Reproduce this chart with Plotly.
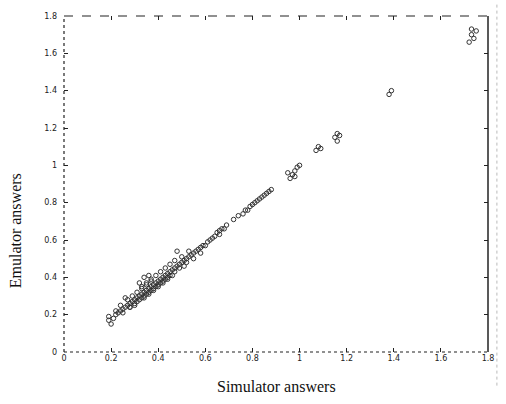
import plotly.graph_objects as go

sim = [0.19, 0.20, 0.19, 0.21, 0.22, 0.23, 0.24, 0.25, 0.26, 0.27, 0.28, 0.28, 0.29, 0.30, 0.30,
       0.31, 0.31, 0.32, 0.32, 0.33, 0.33, 0.33, 0.34, 0.34, 0.35, 0.35, 0.35, 0.36, 0.36, 0.37,
       0.37, 0.37, 0.38, 0.38, 0.39, 0.39, 0.40, 0.40, 0.41, 0.41, 0.42, 0.42, 0.43, 0.43, 0.44,
       0.44, 0.45, 0.45, 0.46, 0.47, 0.47, 0.48, 0.49, 0.49, 0.50, 0.51, 0.52, 0.52, 0.53, 0.54,
       0.55, 0.56, 0.57, 0.58, 0.59, 0.60, 0.61, 0.63, 0.64, 0.65, 0.66, 0.72, 0.74,
       0.76, 0.77, 0.79, 0.80, 0.82, 0.83, 0.84, 0.85, 0.86, 0.87, 0.32, 0.34, 0.36, 0.48, 0.26,
       0.96, 0.97, 0.98, 0.99, 1.00, 1.07, 1.08, 1.09, 1.15, 1.16, 1.17, 1.38, 1.39, 1.72, 1.73,
       1.74, 1.75, 0.62, 0.67, 0.69,
       0.22, 0.24, 0.27, 0.29, 0.31, 0.33, 0.35, 0.37, 0.39, 0.41, 0.43, 0.45, 0.47, 0.50, 0.53,
       0.25, 0.28, 0.30, 0.34, 0.36, 0.38, 0.40, 0.42, 0.44, 0.46, 0.51, 0.55, 0.58, 0.95, 0.98,
       0.78, 0.81, 0.88, 0.66, 0.68, 1.16, 1.73]
emu = [0.17, 0.15, 0.19, 0.18, 0.20, 0.21, 0.22, 0.23, 0.24, 0.25, 0.26, 0.24, 0.27, 0.28, 0.26,
       0.29, 0.27, 0.30, 0.28, 0.31, 0.29, 0.34, 0.32, 0.30, 0.33, 0.31, 0.36, 0.34, 0.32, 0.35,
       0.33, 0.38, 0.36, 0.34, 0.37, 0.35, 0.38, 0.36, 0.39, 0.37, 0.40, 0.38, 0.41, 0.39, 0.42,
       0.40, 0.43, 0.41, 0.44, 0.45, 0.43, 0.46, 0.47, 0.45, 0.48, 0.49, 0.50, 0.48, 0.51, 0.52,
       0.53, 0.54, 0.55, 0.56, 0.57, 0.57, 0.59, 0.61, 0.62, 0.64, 0.65, 0.71, 0.73,
       0.74, 0.76, 0.78, 0.79, 0.81, 0.82, 0.83, 0.84, 0.85, 0.86, 0.37, 0.40, 0.41, 0.54, 0.29,
       0.93, 0.95, 0.97, 0.99, 1.00, 1.08, 1.10, 1.09, 1.15, 1.17, 1.16, 1.38, 1.40, 1.66, 1.70,
       1.68, 1.72, 0.60, 0.66, 0.68,
       0.22, 0.25, 0.28, 0.30, 0.32, 0.35, 0.37, 0.39, 0.41, 0.43, 0.45, 0.47, 0.49, 0.51, 0.54,
       0.21, 0.24, 0.25, 0.29, 0.31, 0.33, 0.35, 0.37, 0.39, 0.41, 0.46, 0.50, 0.53, 0.96, 0.94,
       0.76, 0.80, 0.87, 0.63, 0.66, 1.13, 1.73]

tick_vals = [0, 0.2, 0.4, 0.6, 0.8, 1, 1.2, 1.4, 1.6, 1.8]
tick_text = ["0", "0.2", "0.4", "0.6", "0.8", "1", "1.2", "1.4", "1.6", "1.8"]

fig = go.Figure()
fig.add_trace(go.Scatter(
    x=sim, y=emu, mode="markers",
    marker=dict(symbol="circle-open", size=4.5, color="#333", line=dict(width=1, color="#333")),
    showlegend=False, hoverinfo="skip"))

axis_common = dict(
    range=[0, 1.8], tickmode="array", tickvals=tick_vals, ticktext=tick_text,
    ticks="inside", ticklen=4, tickwidth=1, tickcolor="#222", mirror="ticks",
    showline=False, showgrid=False, zeroline=False,
    tickfont=dict(family="DejaVu Sans", size=8, color="#222"))

fig.update_layout(
    width=506, height=404,
    margin=dict(l=64, r=12, t=13, b=52),
    paper_bgcolor="white", plot_bgcolor="white",
    xaxis=dict(**axis_common),
    yaxis=dict(**axis_common, ticklabelstandoff=6),
    shapes=[
        dict(type="line", xref="paper", yref="paper", x0=0, x1=1, y0=1, y1=1,
             line=dict(color="#222", width=1.2, dash="dash")),
        dict(type="line", xref="paper", yref="paper", x0=0, x1=1, y0=0, y1=0,
             line=dict(color="#222", width=1.2, dash="dot")),
        dict(type="line", xref="paper", yref="paper", x0=0, x1=0, y0=0, y1=1,
             line=dict(color="#222", width=1.2, dash="dot")),
        dict(type="line", xref="paper", yref="paper", x0=1, x1=1, y0=0, y1=1,
             line=dict(color="#222", width=1.5)),
        dict(type="line", xref="paper", yref="paper", x0=1.021, x1=1.021, y0=-0.1, y1=1.04,
             line=dict(color="#bbb", width=1, dash="dot")),
    ],
    annotations=[
        dict(text="Simulator answers", xref="paper", yref="paper", x=0.5, y=-0.07,
             xanchor="center", yanchor="top", showarrow=False,
             font=dict(family="Liberation Serif", size=16, color="#111")),
        dict(text="Emulator answers", xref="paper", yref="paper", x=-0.115, y=0.36,
             xanchor="center", yanchor="middle", textangle=-90, showarrow=False,
             font=dict(family="Liberation Serif", size=16, color="#111")),
    ],
)

fig.write_html("out.html")
